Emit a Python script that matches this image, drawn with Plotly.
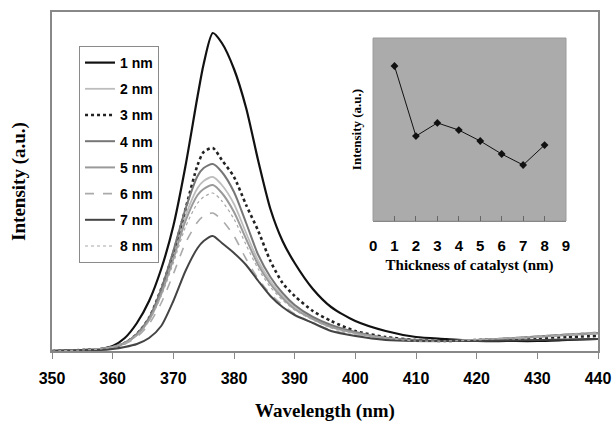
import plotly.graph_objects as go

# ---------------- data ----------------
wavelength = [350, 355, 358, 360, 362, 364, 366, 368, 370, 372, 374, 375, 376.5, 378, 380,
              382, 384, 386, 388, 390, 393, 396, 400, 405, 410, 415, 420, 425, 430, 435, 440]

i_1nm = [0, 1, 2, 5, 13, 28, 50, 82, 125, 185, 255, 287, 318, 308, 282,
         243, 190, 142, 110, 88, 62, 44, 30, 20, 14, 12, 10, 10, 10, 11, 12]
i_2nm = [0, 1, 2, 4, 8, 17, 33, 60, 96, 135, 163, 170, 174, 166, 147,
         118, 90, 70, 55, 44, 33, 25, 18, 13, 11, 10, 11, 12.5, 14.5, 16.5, 18]
i_3nm = [0, 1, 2, 4, 8, 17, 33, 62, 98, 142, 186, 199, 203, 191, 174,
         146, 120, 90, 68, 55, 40, 30, 20, 14, 11, 10, 11, 12, 13, 14, 15]
i_4nm = [0, 1, 2, 4, 8, 17, 33, 62, 100, 142, 175, 183, 187, 179, 159,
         128, 96, 74, 58, 46, 34, 26, 19, 13, 11, 10, 11, 12.5, 14.5, 16.5, 18]
i_5nm = [0, 1, 2, 4, 8, 16, 31, 57, 92, 130, 156, 162, 166, 158, 139,
         112, 86, 67, 53, 42, 32, 24, 18, 13, 10, 10, 11, 12.5, 14, 16, 17.5]
i_6nm = [0, 1, 2, 3, 7, 14, 27, 48, 77, 108, 129, 135, 138, 131, 115,
         92, 72, 57, 46, 37, 28, 21, 16, 12, 10, 10, 11, 12.5, 14, 16, 18]
i_7nm = [0, 1, 1, 2, 4, 7, 13, 25, 50, 80, 103, 110, 115, 108, 98,
         86, 70, 55, 44, 36, 28, 20, 15, 11, 10, 10, 10, 10.5, 11, 11.5, 12]
i_8nm = [0, 1, 2, 4, 8, 16, 30, 55, 88, 124, 148, 154, 158, 150, 132,
         106, 82, 64, 51, 41, 31, 23, 17, 13, 10, 10, 11, 13, 15, 17, 19]

series_names = ["1 nm", "2 nm", "3 nm", "4 nm", "5 nm", "6 nm", "7 nm", "8 nm"]
series_values = [i_1nm, i_2nm, i_3nm, i_4nm, i_5nm, i_6nm, i_7nm, i_8nm]

thickness = [1, 2, 3, 4, 5, 6, 7, 8]
peak_intensity = [84.7, 46.4, 53.6, 49.7, 43.7, 36.6, 30.6, 41.5]

x_ticks = [350, 360, 370, 380, 390, 400, 410, 420, 430, 440]
inset_ticks = [0, 1, 2, 3, 4, 5, 6, 7, 8, 9]

# ---------------- styles ----------------
styles = [
    dict(color="#111111", width=2.2, dash="solid"),
    dict(color="#bdbdbd", width=1.8, dash="solid"),
    dict(color="#222222", width=2.6, dash="dot"),
    dict(color="#777777", width=2.0, dash="solid"),
    dict(color="#9a9a9a", width=2.0, dash="solid"),
    dict(color="#aaaaaa", width=1.6, dash="dash"),
    dict(color="#444444", width=2.0, dash="solid"),
    dict(color="#a8a8a8", width=1.2, dash="dot"),
]

serif = "Liberation Serif"
sans = "Liberation Sans"

fig = go.Figure()

for name, vals, st in zip(series_names, series_values, styles):
    fig.add_trace(go.Scatter(
        x=wavelength, y=vals, mode="lines", name=name,
        line=dict(color=st["color"], width=st["width"], dash=st["dash"],
                  shape="spline", smoothing=0.7),
        legendgroup=name, xaxis="x", yaxis="y",
    ))

fig.add_trace(go.Scatter(
    x=thickness, y=peak_intensity, mode="lines+markers",
    line=dict(color="#111111", width=1),
    marker=dict(symbol="diamond", size=6, color="#111111"),
    showlegend=False, xaxis="x2", yaxis="y2",
))

fig.update_layout(
    width=616, height=424,
    margin=dict(l=52, r=18, t=12, b=73, autoexpand=False),
    paper_bgcolor="white", plot_bgcolor="rgba(0,0,0,0)",
    showlegend=True,
    legend=dict(
        x=0.0495, y=0.8997, xanchor="left", yanchor="top",
        bgcolor="white", bordercolor="#8a8a8a", borderwidth=1,
        font=dict(family=sans, size=14, color="black", weight="bold"),
        tracegroupgap=5,
    ),
    xaxis=dict(
        domain=[0, 1], range=[350, 440], tickvals=x_ticks, automargin=False,
        ticks="outside", ticklen=6, tickcolor="#888888",
        showline=True, linecolor="#888888", linewidth=1.5, mirror=True,
        showgrid=False, zeroline=False,
        tickfont=dict(family=sans, size=16, color="black", weight="bold"),
        ticklabelstandoff=6,
        title=dict(text="Wavelength (nm)", standoff=18,
                   font=dict(family=serif, size=19, color="black", weight="bold")),
    ),
    xaxis3=dict(
        overlaying="x", matches="x", range=[350, 440], tickvals=x_ticks, automargin=False,
        ticks="inside", ticklen=6, tickcolor="#888888", showticklabels=False,
        showgrid=False, zeroline=False, showline=False,
    ),
    yaxis=dict(
        domain=[0, 1], range=[0, 339], automargin=False,
        showline=True, linecolor="#888888", linewidth=1.5, mirror=True,
        showticklabels=False, ticks="", showgrid=False, zeroline=False,
        title=dict(text="Intensity (a.u.)", standoff=20,
                   font=dict(family=serif, size=19, color="black", weight="bold")),
    ),
    xaxis2=dict(
        domain=[0.588, 0.9414], anchor="y2", range=[0, 9], tickvals=inset_ticks,
        automargin=False,
        ticks="inside", ticklen=5, tickcolor="#666666",
        showline=True, linecolor="#888888", linewidth=1,
        showgrid=False, zeroline=False,
        tickfont=dict(family=sans, size=15, color="black", weight="bold"),
        ticklabelstandoff=11,
        title=dict(text="Thickness of catalyst (nm)", standoff=6,
                   font=dict(family=serif, size=15, color="black", weight="bold")),
    ),
    yaxis2=dict(
        domain=[0.3835, 0.9233], anchor="x2", range=[0, 100], automargin=False,
        showticklabels=False, ticks="", showgrid=False, zeroline=False,
        showline=False,
        title=dict(text="Intensity (a.u.)", standoff=7,
                   font=dict(family=serif, size=13, color="black", weight="bold")),
    ),
)

fig.add_shape(type="rect", xref="x2 domain", yref="y2 domain",
              x0=0, x1=1, y0=0, y1=1, fillcolor="#ababab",
              line=dict(color="#9a9a9a", width=1), layer="below")

fig.write_html(
    "out.html",
    config={"displayModeBar": False},
    post_script="document.body.style.margin='0';document.body.style.overflow='hidden';",
)
